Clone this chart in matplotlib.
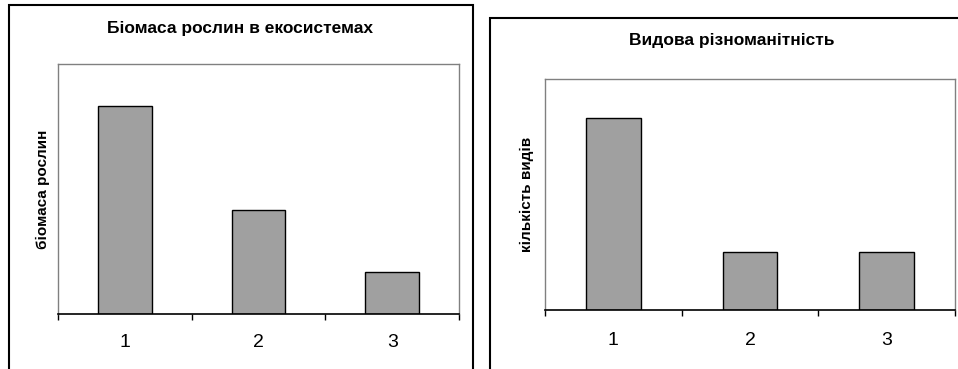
import matplotlib.pyplot as plt
from matplotlib.patches import Rectangle

plt.rcParams['font.family'] = ['Liberation Sans', 'DejaVu Sans']

# дані для двох діаграм
categories = [1, 2, 3]
biomass = [10, 5, 2]
species = [10, 3, 3]

W, H = 958, 369


def px_rect(left, top, right, bottom):
    return [left / W, 1 - bottom / H, (right - left) / W, (bottom - top) / H]


def draw_panel(fig, rect, values, title, ylabel, title_xy, label_x, pad):
    ax = fig.add_axes(rect)
    ax.bar(categories, values, width=0.4, color="#a0a0a0", edgecolor="black", linewidth=1)
    ax.set_xlim(0.5, 3.5)
    ax.set_ylim(0, 12)
    for side in ["top", "left", "right"]:
        ax.spines[side].set_color("#808080")
        ax.spines[side].set_linewidth(1)
    ax.spines["bottom"].set_color("black")
    ax.spines["bottom"].set_linewidth(1.2)
    ax.set_yticks([])
    ax.set_xticks(categories)
    ax.set_xticklabels([str(c) for c in categories], fontsize=14)
    ax.set_xticks([0.5, 1.5, 2.5, 3.5], minor=True)
    ax.tick_params(axis="x", which="major", length=0, pad=pad)
    ax.tick_params(axis="x", which="minor", length=4.5, width=1, direction="out")
    ax.set_ylabel(ylabel, fontsize=11, fontweight="bold")
    ax.yaxis.set_label_coords(label_x, 0.5)
    fig.text(title_xy[0] / W, 1 - title_xy[1] / H, title, fontsize=12.5,
             fontweight="bold", ha="center", va="center")
    return ax


fig = plt.figure(figsize=(W / 100, H / 100), dpi=100)

# рамки діаграм
fig.patches.append(Rectangle((9 / W, -0.1), 464 / W, 1.1 - 5 / H, transform=fig.transFigure,
                             fill=False, edgecolor="black", linewidth=1.5))
fig.patches.append(Rectangle((490 / W, -0.1), 0.5, 1.1 - 18 / H, transform=fig.transFigure,
                             fill=False, edgecolor="black", linewidth=1.5))

draw_panel(fig, px_rect(58, 64, 459, 314), biomass, "Біомаса рослин в екосистемах",
           "біомаса рослин", (240, 29), -0.0195, 14.5)
draw_panel(fig, px_rect(545, 79, 955, 310), species, "Видова різноманітність",
           "кількість видів", (732, 41), -0.027, 15.5)

fig.savefig("out.png", dpi=100)
